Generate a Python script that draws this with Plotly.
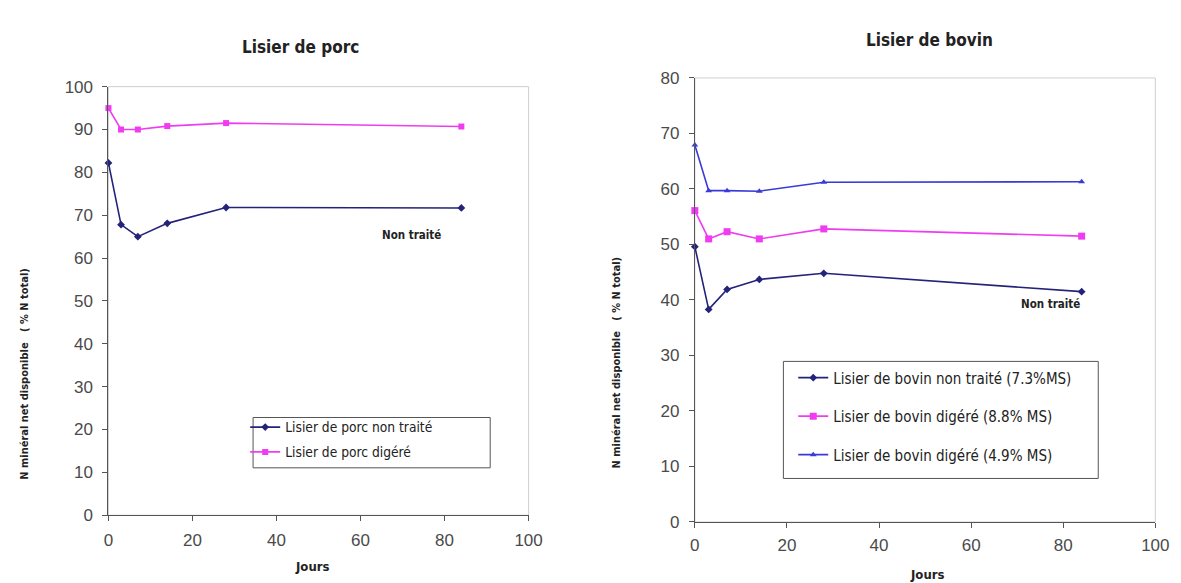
import plotly.graph_objects as go

# ---- data ----
jours = [0, 3, 7, 14, 28, 84]

porc_non_traite = [82.2, 67.8, 65.0, 68.1, 71.8, 71.7]
porc_digere = [95.0, 90.0, 90.0, 90.8, 91.5, 90.7]

bovin_non_traite = [49.6, 38.3, 41.9, 43.7, 44.8, 41.5]
bovin_digere_88 = [56.1, 51.0, 52.3, 51.0, 52.8, 51.5]
bovin_digere_49 = [67.9, 59.7, 59.7, 59.6, 61.2, 61.3]

x_ticks = [0, 20, 40, 60, 80, 100]
y_ticks_porc = list(range(0, 101, 10))
y_ticks_bovin = list(range(0, 81, 10))

NAVY = "#23237a"
PINK = "#f03cf0"
BLUE = "#3a3ad6"

COND = "DejaVu Sans Condensed, DejaVu Sans, sans-serif"
TICKF = dict(family="Liberation Sans, Arial, sans-serif", size=17, color="#4a4a4a")

fig = go.Figure()

def add(x, y, name, color, symbol, xa, ya, legend, group, size=6):
    fig.add_trace(go.Scatter(
        x=x, y=y, name=name, mode="lines+markers",
        line=dict(color=color, width=1.6),
        marker=dict(color=color, symbol=symbol, size=size),
        xaxis=xa, yaxis=ya, legend=legend, legendgroup=group,
        cliponaxis=False,
    ))

add(jours, porc_non_traite, "Lisier de porc non traité", NAVY, "diamond", "x", "y", "legend", "a", 6)
add(jours, porc_digere, "Lisier de porc digéré", PINK, "square", "x", "y", "legend", "b", 6)
add(jours, bovin_non_traite, "Lisier de bovin non traité (7.3%MS)", NAVY, "diamond", "x2", "y2", "legend2", "c", 6)
add(jours, bovin_digere_88, "Lisier de bovin digéré (8.8% MS)", PINK, "square", "x2", "y2", "legend2", "d", 7)
add(jours, bovin_digere_49, "Lisier de bovin digéré (4.9% MS)", BLUE, "triangle-up", "x2", "y2", "legend2", "e", 6)

W, H = 1181, 583

def xd(a, b):
    return [a / W, b / W]

def yd(top, bottom):
    return [(H - bottom) / H, (H - top) / H]

axis_common = dict(
    showgrid=False, zeroline=False, showline=True, linecolor="#555555", linewidth=1,
    ticks="outside", ticklen=5, tickcolor="#555555", tickfont=TICKF,
)

fig.update_layout(
    width=W, height=H,
    margin=dict(l=0, r=0, t=0, b=0),
    paper_bgcolor="white", plot_bgcolor="white",
    xaxis=dict(domain=xd(97, 524), range=[0, 100], tickvals=x_ticks, anchor="y",
               ticklabelstandoff=4, **axis_common),
    yaxis=dict(domain=yd(72, 515), range=[0, 100], tickvals=y_ticks_porc, anchor="x",
               ticklabelstandoff=6, **axis_common),
    xaxis2=dict(domain=xd(693, 1161), range=[0, 100], tickvals=x_ticks, anchor="y2",
                ticklabelstandoff=3, **axis_common),
    yaxis2=dict(domain=yd(63, 522), range=[0, 80], tickvals=y_ticks_bovin, anchor="x2",
                ticklabelstandoff=6, **axis_common),
    legend=dict(
        x=236 / W, y=(H - 408) / H, xanchor="left", yanchor="top",
        borderwidth=0, bgcolor="rgba(0,0,0,0)",
        font=dict(family=COND, size=13.7, color="#222222"),
        traceorder="grouped", tracegroupgap=4, itemwidth=30,
    ),
    legend2=dict(
        x=793 / W, y=(H - 356) / H, xanchor="left", yanchor="top",
        borderwidth=0, bgcolor="rgba(0,0,0,0)",
        font=dict(family=COND, size=15, color="#222222"),
        traceorder="grouped", tracegroupgap=16, itemwidth=30,
    ),
    showlegend=True,
)

# light plot-area borders (top/right)
for xr, yr in (("x domain", "y domain"), ("x2 domain", "y2 domain")):
    fig.add_shape(type="rect", xref=xr, yref=yr, x0=0, x1=1, y0=0, y1=1,
                  line=dict(color="#cfcfcf", width=1), layer="below")

# legend frames
for (l, t, r, b) in ((244, 414, 485, 466), (783, 356, 1103, 477)):
    fig.add_shape(type="rect", xref="paper", yref="paper",
                  x0=l / W, x1=r / W, y0=(H - b) / H, y1=(H - t) / H,
                  line=dict(color="#555555", width=1), layer="above")

def ann(x, y, text, size, angle=0, bold=True):
    fig.add_annotation(xref="paper", yref="paper", x=x / W, y=(H - y) / H,
                       text=f"<b>{text}</b>" if bold else text, showarrow=False,
                       textangle=angle, xanchor="center", yanchor="middle",
                       font=dict(family=COND, size=size, color="#222222"))

ann(292, 31, "Lisier de porc", 17)
ann(931, 24, "Lisier de bovin", 17)
ann(304, 568, "Jours", 13)
ann(929, 576, "Jours", 13)
ann(12, 369, "N minéral net disponible   ( % N total)", 11, angle=-90)
ann(613, 357, "N minéral net disponible   ( % N total)", 11, angle=-90)
ann(405, 225, "Non traité", 11.5)
ann(1054, 297, "Non traité", 11.5)

fig.write_html("out.html")
